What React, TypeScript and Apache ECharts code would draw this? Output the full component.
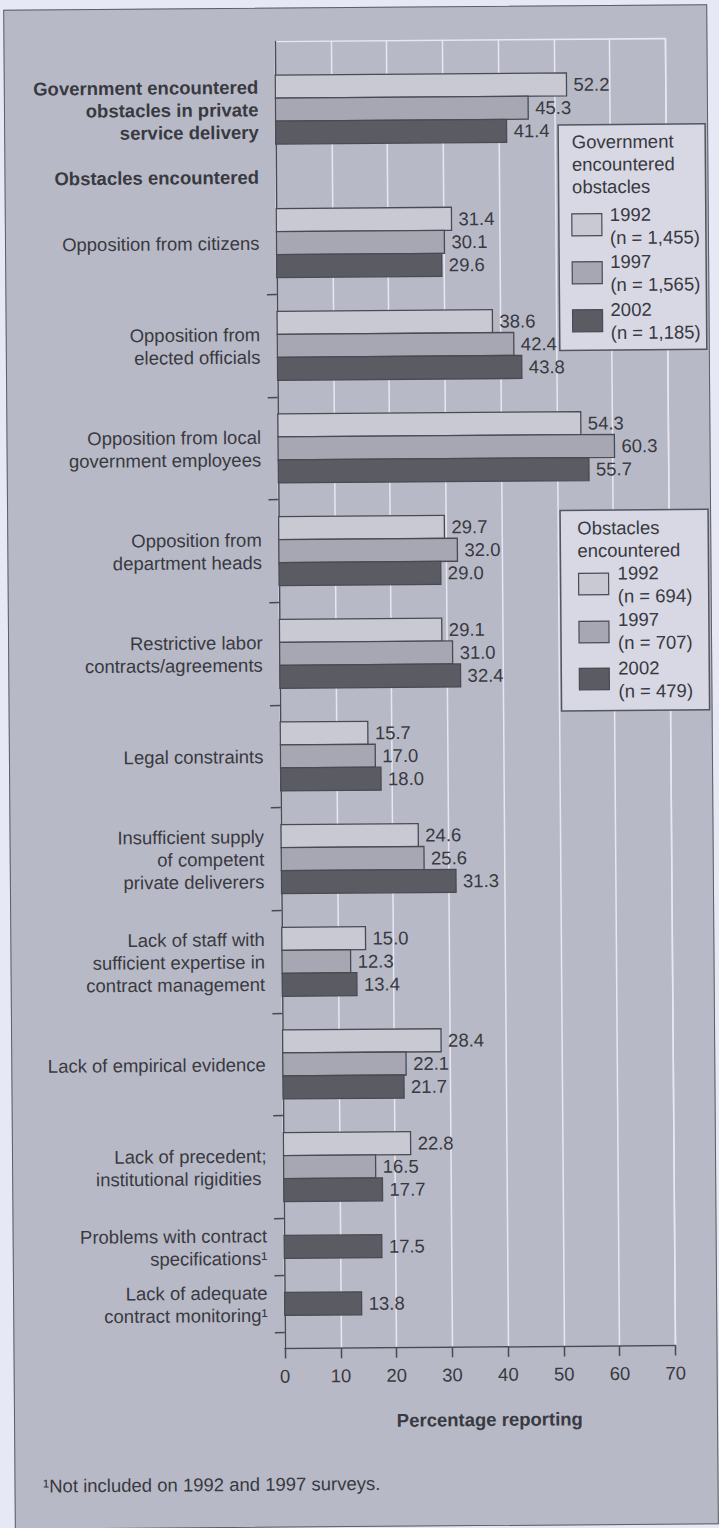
import { useEffect, useRef } from "react";
import * as echarts from "echarts";

// ---- data ----
const summaryLabel = "Government encountered\nobstacles in private\nservice delivery";
const sectionLabel = "Obstacles encountered";
const obstacleLabels = [
  "Opposition from citizens",
  "Opposition from\nelected officials",
  "Opposition from local\ngovernment employees",
  "Opposition from\ndepartment heads",
  "Restrictive labor\ncontracts/agreements",
  "Legal constraints",
  "Insufficient supply\nof competent\nprivate deliverers",
  "Lack of staff with\nsufficient expertise in\ncontract management",
  "Lack of empirical evidence",
  "Lack of precedent;\ninstitutional rigidities ",
  "Problems with contract\nspecifications\u00b9",
  "Lack of adequate\ncontract monitoring\u00b9",
];
const years = ["1992", "1997", "2002"];
const summaryCounts = ["(n = 1,455)", "(n = 1,565)", "(n = 1,185)"];
const obstacleCounts = ["(n = 694)", "(n = 707)", "(n = 479)"];
const summaryValues = [52.2, 45.3, 41.4];
const values1992 = [31.4, 38.6, 54.3, 29.7, 29.1, 15.7, 24.6, 15.0, 28.4, 22.8, null, null];
const values1997 = [30.1, 42.4, 60.3, 32.0, 31.0, 17.0, 25.6, 12.3, 22.1, 16.5, null, null];
const values2002 = [29.6, 43.8, 55.7, 29.0, 32.4, 18.0, 31.3, 13.4, 21.7, 17.7, 17.5, 13.8];
const xMin = 0;
const xMax = 70;
const xStep = 10;
const axisTitle = "Percentage reporting";
const summaryLegendTitle = "Government\nencountered\nobstacles";
const obstacleLegendTitle = "Obstacles\nencountered";
const footnote = "\u00b9Not included on 1992 and 1997 surveys.";

// ---- styling ----
const FONT = '"Liberation Sans", Arial, Helvetica, sans-serif';
const FS = 18.5;
const TEXT = "#393941";
const EDGE = "#4a4a52";
const GRIDLINE = "#e5e7f2";
const yearFill = ["#c8c9d3", "#a6a7b2", "#5b5b64"];

// ---- vertical layout, in y-axis units (one unit = one pixel of plot height) ----
const PLOT_TOP = 41;
const PLOT_H = 1307;
const BAR = 23;
const SUMMARY_CENTER = 68;
const SECTION_POS = 135.5;
const FIRST_CENTER = 201.5;
const BAND = 102.67;
const SMALL_BAND = 57;

const seriesValues = [values1992, values1997, values2002];
const fullGroups = obstacleLabels.filter((_, i) => seriesValues.every((s) => s[i] != null)).length;
const fullEnd = FIRST_CENTER + (fullGroups - 1) * BAND + BAND / 2;

function rowCenter(i: number): number {
  if (i < fullGroups) return FIRST_CENTER + i * BAND;
  return fullEnd + SMALL_BAND * (i - fullGroups + 0.5);
}
function rowBoundary(i: number): number {
  if (i < fullGroups) return FIRST_CENTER + i * BAND + BAND / 2;
  return fullEnd + SMALL_BAND * (i - fullGroups + 1);
}

// bar rows: [value, y center] per year
function barRows(yearIdx: number): number[][] {
  const rows: number[][] = [];
  const place = (center: number, vals: (number | null)[], j: number) => {
    const present = vals.map((v, k) => (v != null ? k : -1)).filter((k) => k >= 0);
    const pos = present.indexOf(j);
    if (pos < 0) return;
    rows.push([vals[j] as number, center + (pos - (present.length - 1) / 2) * BAR]);
  };
  place(SUMMARY_CENTER, summaryValues, yearIdx);
  obstacleLabels.forEach((_, i) => {
    place(rowCenter(i), seriesValues.map((s) => s[i]), yearIdx);
  });
  return rows;
}

const labelEntries = [
  { pos: SUMMARY_CENTER, text: summaryLabel, bold: true },
  { pos: SECTION_POS, text: sectionLabel, bold: true },
  ...obstacleLabels.map((t, i) => ({ pos: rowCenter(i), text: t, bold: false })),
];
const tickPositions = obstacleLabels.map((_, i) => rowBoundary(i));

function legend(bx: number, by: number, w: number, h: number, title: string, titleX: number, titleY: number,
  swX: number, swTops: number[], swH: number, labX: number, labYs: number[], counts: string[]) {
  const els: any[] = [
    { type: "rect", shape: { x: bx, y: by, width: w, height: h }, style: { fill: "#d7d8e3", stroke: "#55555e", lineWidth: 1.5 }, z: 10 },
    { type: "text", x: bx + titleX, y: by + titleY, z: 11,
      style: { text: title, fontSize: FS, fontFamily: FONT, fill: TEXT, lineHeight: 22.5, verticalAlign: "middle", align: "left" } },
  ];
  years.forEach((yr, k) => {
    els.push({ type: "rect", z: 11, shape: { x: bx + swX, y: by + swTops[k], width: 30, height: swH },
      style: { fill: yearFill[k], stroke: EDGE, lineWidth: 1.2 } });
    els.push({ type: "text", x: bx + labX, y: by + labYs[k], z: 11,
      style: { text: yr + "\n" + counts[k], fontSize: FS, fontFamily: FONT, fill: TEXT, lineHeight: 23, verticalAlign: "middle", align: "left" } });
  });
  return els;
}

function buildOption(): any {
  const series = years.map((yr, k) => ({
    type: "custom",
    name: yr,
    encode: { x: 0, y: 1 },
    data: barRows(k),
    z: 5,
    renderItem: (_params: any, api: any) => {
      const v = api.value(0);
      const y = api.value(1);
      const p0 = api.coord([0, y]);
      const p1 = api.coord([v, y]);
      const h = api.size([0, BAR])[1];
      return {
        type: "group",
        children: [
          { type: "rect", shape: { x: p0[0], y: p0[1] - h / 2, width: p1[0] - p0[0], height: h },
            style: { fill: yearFill[k], stroke: EDGE, lineWidth: 1.3 } },
          { type: "text", x: p1[0] + 7, y: p1[1],
            style: { text: v.toFixed(1), fontSize: FS, fontFamily: FONT, fill: TEXT, verticalAlign: "middle", align: "left" } },
        ],
      };
    },
  }));

  return {
    animation: false,
    grid: {
      left: 280.5, right: 48, top: PLOT_TOP, bottom: 1528 - PLOT_TOP - PLOT_H,
      show: true, borderColor: GRIDLINE, borderWidth: 1.5, backgroundColor: "transparent",
      containLabel: false, outerBoundsMode: "none",
    },
    xAxis: {
      type: "value", min: xMin, max: xMax, interval: xStep, position: "bottom",
      axisLine: { show: true, onZero: false, lineStyle: { color: EDGE, width: 1.5 } },
      axisTick: { show: true, length: 10, lineStyle: { color: EDGE, width: 1.5 } },
      axisLabel: { fontSize: FS, fontFamily: FONT, color: TEXT, margin: 18 },
      splitLine: { show: true, lineStyle: { color: GRIDLINE, width: 1.5 } },
      name: axisTitle, nameLocation: "middle", nameGap: 63,
      nameTextStyle: { fontSize: FS, fontFamily: FONT, fontWeight: "bold", color: TEXT, padding: [0, 0, 0, 18] },
    },
    yAxis: {
      type: "value", inverse: true, min: 0, max: PLOT_H,
      axisLine: { show: true, onZero: false, lineStyle: { color: EDGE, width: 1.5 } },
      axisTick: { show: true, length: 10, customValues: tickPositions, lineStyle: { color: EDGE, width: 1.5 } },
      splitLine: { show: false },
      axisLabel: {
        show: true, margin: 17, customValues: labelEntries.map((e) => e.pos),
        formatter: (val: number) => {
          let best = labelEntries[0];
          for (const e of labelEntries) if (Math.abs(e.pos - val) < Math.abs(best.pos - val)) best = e;
          return best.bold ? `{b|${best.text}}` : `{r|${best.text}}`;
        },
        rich: {
          b: { fontSize: FS, fontFamily: FONT, fontWeight: "bold", color: TEXT, lineHeight: 22.5, align: "right" },
          r: { fontSize: FS, fontFamily: FONT, color: TEXT, lineHeight: 22.5, align: "right" },
        },
      },
    },
    series,
    graphic: {
      elements: [
        ...legend(563, 126.5, 147, 225.5, summaryLegendTitle, 13.5, 39.5, 13, [89, 137, 185], 22, 51, [101.5, 148.5, 196.5], summaryCounts),
        ...legend(562, 512, 148, 200.5, obstacleLegendTitle, 17, 29, 18, [63, 111, 158], 21.5, 57, [74.5, 121, 169.5], obstacleCounts),
        { type: "text", x: 37.5, y: 1483.5, z: 11,
          style: { text: footnote, fontSize: FS, fontFamily: FONT, fill: TEXT, verticalAlign: "middle", align: "left" } },
      ],
    },
  };
}

export default function App() {
  const ref = useRef<HTMLDivElement>(null);
  useEffect(() => {
    if (!ref.current) return;
    const chart = echarts.init(ref.current, null, { renderer: "svg" });
    chart.setOption(buildOption());
    return () => chart.dispose();
  }, []);
  return (
    <div style={{ position: "fixed", left: 0, top: 0, width: 719, height: 1528, background: "#e7e8f6", overflow: "hidden" }}>
      <div style={{ position: "absolute", left: 0, top: 0, width: 719, height: 1528, transform: "rotate(-0.44deg)", transformOrigin: "50% 50%" }}>
        <div style={{ position: "absolute", left: 9, top: 7, width: 704, height: 1520, background: "#b8b9c6", border: "1px solid #5e5e68", boxSizing: "border-box" }} />
        <div ref={ref} style={{ position: "absolute", left: 0, top: 0, width: 719, height: 1528 }} />
      </div>
    </div>
  );
}
